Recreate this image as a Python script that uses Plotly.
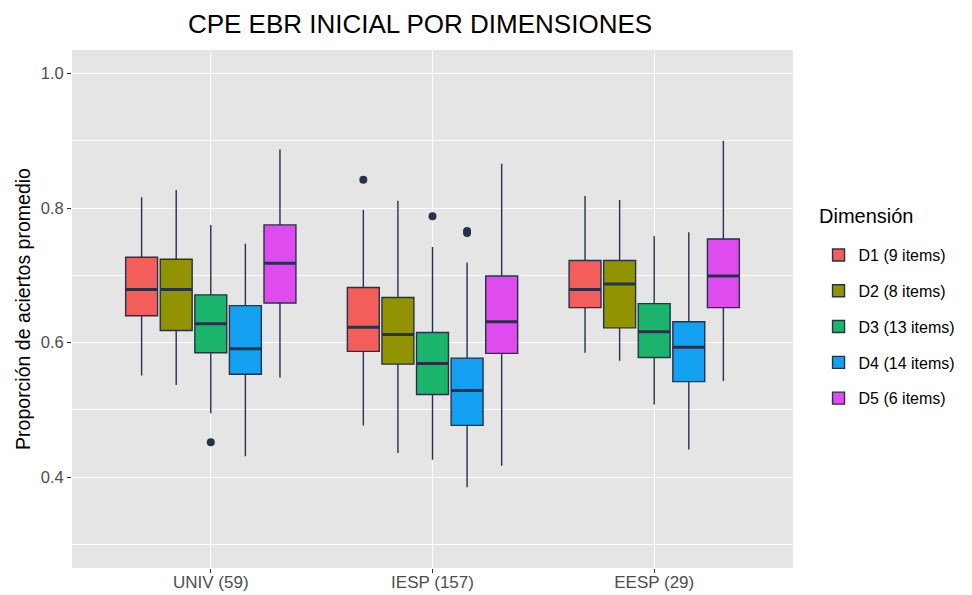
import plotly.graph_objects as go

# ---- data ----
groups = ["UNIV (59)", "IESP (157)", "EESP (29)"]
dims = ["D1 (9 items)", "D2 (8 items)", "D3 (13 items)", "D4 (14 items)", "D5 (6 items)"]

# per dimension: values for [UNIV, IESP, EESP]
upper_whisker = {
    "D1 (9 items)": [0.816, 0.797, 0.818],
    "D2 (8 items)": [0.827, 0.811, 0.812],
    "D3 (13 items)": [0.775, 0.742, 0.758],
    "D4 (14 items)": [0.747, 0.719, 0.764],
    "D5 (6 items)": [0.887, 0.866, 0.900],
}
q3_vals = {
    "D1 (9 items)": [0.727, 0.682, 0.722],
    "D2 (8 items)": [0.724, 0.667, 0.722],
    "D3 (13 items)": [0.671, 0.615, 0.658],
    "D4 (14 items)": [0.655, 0.577, 0.631],
    "D5 (6 items)": [0.775, 0.699, 0.754],
}
median_vals = {
    "D1 (9 items)": [0.679, 0.623, 0.679],
    "D2 (8 items)": [0.679, 0.612, 0.687],
    "D3 (13 items)": [0.628, 0.569, 0.616],
    "D4 (14 items)": [0.591, 0.529, 0.593],
    "D5 (6 items)": [0.718, 0.631, 0.699],
}
q1_vals = {
    "D1 (9 items)": [0.640, 0.587, 0.652],
    "D2 (8 items)": [0.618, 0.568, 0.622],
    "D3 (13 items)": [0.585, 0.523, 0.578],
    "D4 (14 items)": [0.553, 0.477, 0.542],
    "D5 (6 items)": [0.659, 0.584, 0.652],
}
lower_whisker = {
    "D1 (9 items)": [0.551, 0.477, 0.585],
    "D2 (8 items)": [0.537, 0.436, 0.573],
    "D3 (13 items)": [0.495, 0.426, 0.508],
    "D4 (14 items)": [0.431, 0.385, 0.441],
    "D5 (6 items)": [0.548, 0.417, 0.543],
}
# outliers: (group index, value)
outliers = {
    "D1 (9 items)": [(1, 0.842)],
    "D2 (8 items)": [],
    "D3 (13 items)": [(0, 0.452), (1, 0.788)],
    "D4 (14 items)": [(1, 0.766), (1, 0.763)],
    "D5 (6 items)": [],
}

colors = ["#F35E5A", "#919400", "#1AB56A", "#14A0F0", "#DE4BEF"]
edge = "#27324a"

dodge = 0.156
box_w = 0.144

fig = go.Figure()
for k, d in enumerate(dims):
    off = (k - 2) * dodge
    pos = [g + off for g in range(len(groups))]
    fig.add_trace(go.Box(
        x=pos, q1=q1_vals[d], median=median_vals[d], q3=q3_vals[d],
        lowerfence=lower_whisker[d], upperfence=upper_whisker[d],
        width=box_w, whiskerwidth=0, boxpoints=False,
        fillcolor=colors[k], line=dict(color=edge, width=1.4),
        name=d, legendgroup=d, hoverinfo="skip",
    ))
    # thick median lines
    mx, my = [], []
    for p, m in zip(pos, median_vals[d]):
        mx += [p - box_w / 2, p + box_w / 2, None]
        my += [m, m, None]
    fig.add_trace(go.Scatter(x=mx, y=my, mode="lines",
                             line=dict(color=edge, width=3),
                             showlegend=False, hoverinfo="skip"))
    if outliers[d]:
        fig.add_trace(go.Scatter(
            x=[gi + off for gi, _ in outliers[d]],
            y=[v for _, v in outliers[d]],
            mode="markers", marker=dict(color=edge, size=8),
            showlegend=False, hoverinfo="skip"))

font_family = "Liberation Sans, Arial, sans-serif"
fig.update_layout(
    width=972, height=595,
    margin=dict(l=72, r=178, t=50, b=27),
    paper_bgcolor="white", plot_bgcolor="#E5E5E5",
    font=dict(family=font_family, color="black"),
    boxmode="overlay",
    title=dict(text="CPE EBR INICIAL POR DIMENSIONES", x=420 / 972, xref="container",
               xanchor="center", y=1 - 24 / 595, yref="container", yanchor="middle",
               font=dict(size=26, color="black")),
    legend=dict(x=1.034, xanchor="left", y=0.637, yanchor="top",
                font=dict(size=16, color="black"), tracegroupgap=12,
                bgcolor="white"),
    showlegend=True,
    annotations=[dict(text="Dimensión", x=(818 - 72) / 722, xref="paper", xanchor="left",
                      y=(568 - 216) / 518, yref="paper", yanchor="middle",
                      showarrow=False, font=dict(size=20, color="black"))],
)
fig.update_xaxes(
    range=[-0.626, 2.626], tickvals=list(range(len(groups))), ticktext=groups,
    showgrid=True, gridcolor="white", gridwidth=1.2, zeroline=False,
    ticks="outside", ticklen=4, tickcolor="#333333", automargin=False,
    ticklabelstandoff=-5,
    tickfont=dict(size=17, color="#4D4D4D"), showline=False,
)
fig.update_yaxes(
    range=[0.265, 1.035], tickvals=[0.4, 0.6, 0.8, 1.0],
    ticktext=["0.4", "0.6", "0.8", "1.0"],
    showgrid=True, gridcolor="white", gridwidth=1.2, zeroline=False,
    ticks="outside", ticklen=4, tickcolor="#333333", automargin=False,
    tickfont=dict(size=16.5, color="#4D4D4D"),
    minor=dict(tickvals=[0.3, 0.5, 0.7, 0.9], showgrid=True, gridcolor="white", gridwidth=0.6),
    title=dict(text="Proporción de aciertos promedio", font=dict(size=19.5, color="black"), standoff=4),
)

fig.write_html("out.html", config={"displayModeBar": False},
               post_script="document.body.style.margin='0';")
